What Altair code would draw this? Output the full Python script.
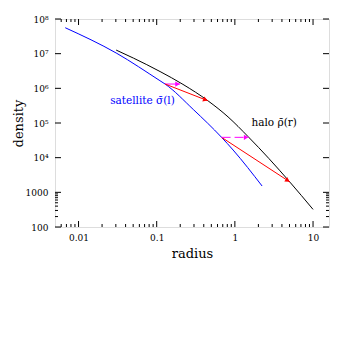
import math
import altair as alt
import pandas as pd

# ---------------- data ----------------
halo_r = [0.0303, 0.0504, 0.1104, 0.2168, 0.4545, 0.818, 1.473, 2.731, 5.06, 10.0]
halo_rho = [1.27e7, 7.45e6, 3.05e6, 1.30e6, 4.34e5, 1.50e5, 4.07e4, 9400, 1972, 322]

sat_l = [0.00676, 0.0309, 0.110, 0.128, 0.294, 0.676, 0.95, 2.23]
sat_sigma = [5.6e7, 1.02e7, 1.66e6, 1.33e6, 2.45e5, 3.86e4, 1.66e4, 1520]

# arrows: start (x1,y1) -> end (x2,y2)
arr_x1 = [0.128, 0.128, 0.676, 0.676]
arr_y1 = [1.33e6, 1.33e6, 3.86e4, 3.86e4]
arr_x2 = [0.199, 0.45, 1.5, 5.04]
arr_y2 = [1.33e6, 4.4e5, 3.86e4, 2000]
arr_col = ["#ff00ff", "#ff0000", "#ff00ff", "#ff0000"]
arr_dash = [False, False, True, False]

x_major = [0.01, 0.1, 1, 10]
y_major = [100, 1000, 1e4, 1e5, 1e6, 1e7, 1e8]

labels = ["satellite σ̄(l)", "halo ρ̄(r)"]
label_x = [0.0254, 1.63]
label_y = [4.4e5, 1.02e5]
label_col = ["#0000ff", "#000000"]

# ---------------- layout ----------------
W, H = 274, 208
XDOM = [0.005, 16]
YDOM = [100, 1e8]
MAJ, MIN = 6, 3
FONT = "DejaVu Serif"

xs = alt.Scale(type="log", domain=XDOM, nice=False)
ys = alt.Scale(type="log", domain=YDOM, nice=False)

px_dec = W / (math.log10(XDOM[1]) - math.log10(XDOM[0]))
py_dec = H / (math.log10(YDOM[1]) - math.log10(YDOM[0]))


def minors(lo, hi):
    out = []
    for e in range(-4, 3):
        for m in range(2, 10):
            v = m * 10 ** e
            if lo < v < hi:
                out.append(v)
    return out


x_minor = minors(*XDOM)
y_minor = minors(*YDOM)

xaxis = alt.Axis(values=x_major, format="~g", domain=False, ticks=False, grid=False,
                 labelFont=FONT, labelFontSize=9, labelColor="black", labelPadding=6,
                 titleFont=FONT, titleFontSize=13, titleFontWeight="normal",
                 titleColor="black", titlePadding=5)
yaxis = alt.Axis(values=y_major, domain=False, ticks=False, grid=False,
                 labelExpr="datum.value < 10000 ? format(datum.value, 'd') : '10' + "
                           "substring('⁰¹²³⁴⁵⁶⁷⁸⁹', round(log(datum.value)/LN10), "
                           "round(log(datum.value)/LN10) + 1)",
                 labelFont=FONT, labelFontSize=9, labelColor="black", labelPadding=7,
                 titleFont=FONT, titleFontSize=13, titleFontWeight="normal",
                 titleColor="black", titlePadding=0)


def X(f):
    return alt.X(f, type="quantitative", scale=xs, axis=xaxis, title="radius")


def Y(f):
    return alt.Y(f, type="quantitative", scale=ys, axis=yaxis, title="density")


halo_df = pd.DataFrame({"x": halo_r, "y": halo_rho})
sat_df = pd.DataFrame({"x": sat_l, "y": sat_sigma})

halo = alt.Chart(halo_df).mark_line(color="black", strokeWidth=1, interpolate="monotone").encode(
    x=X("x"), y=Y("y"))
sat = alt.Chart(sat_df).mark_line(color="#0000ff", strokeWidth=1, interpolate="monotone").encode(
    x=X("x"), y=Y("y"))

# arrows
arr_df = pd.DataFrame({"x1": arr_x1, "y1": arr_y1, "x2": arr_x2, "y2": arr_y2,
                       "c": arr_col, "dash": arr_dash})
solid = alt.Chart(arr_df[~arr_df.dash]).mark_rule(strokeWidth=1).encode(
    x=X("x1"), y=Y("y1"), x2="x2:Q", y2="y2:Q", color=alt.Color("c:N", scale=None))
dashed = alt.Chart(arr_df[arr_df.dash]).mark_rule(strokeWidth=1, strokeDash=[9, 4]).encode(
    x=X("x1"), y=Y("y1"), x2="x2:Q", y2="y2:Q", color=alt.Color("c:N", scale=None))

hx, hy, ha = [], [], []
for a, b, c, d in zip(arr_x1, arr_y1, arr_x2, arr_y2):
    dx = (math.log10(c) - math.log10(a)) * px_dec
    dy = -(math.log10(d) - math.log10(b)) * py_dec
    ang = math.atan2(dy, dx)
    back = 2.5
    hx.append(10 ** (math.log10(c) - back * math.cos(ang) / px_dec))
    hy.append(10 ** (math.log10(d) + back * math.sin(ang) / py_dec))
    ha.append(math.degrees(ang) % 360)
head_df = pd.DataFrame({"x": hx, "y": hy, "a": ha, "c": arr_col})
heads = alt.Chart(head_df).mark_point(shape="triangle-right", filled=True, size=28, opacity=1,
                                      strokeWidth=0).encode(
    x=X("x"), y=Y("y"), angle=alt.Angle("a:Q", scale=None), color=alt.Color("c:N", scale=None))

txt_df = pd.DataFrame({"x": label_x, "y": label_y, "t": labels, "c": label_col})
texts = alt.Chart(txt_df).mark_text(align="left", baseline="middle", font=FONT,
                                    fontSize=10.5).encode(
    x=X("x"), y=Y("y"), text="t:N", color=alt.Color("c:N", scale=None))


def tick_layer(vals, side, length):
    df = pd.DataFrame({"v": vals})
    base = alt.Chart(df).mark_rule(color="black", strokeWidth=1)
    if side == "bottom":
        return base.encode(x=X("v"), y=alt.value(H), y2=alt.value(H - length))
    if side == "top":
        return base.encode(x=X("v"), y=alt.value(0), y2=alt.value(length))
    if side == "left":
        return base.encode(y=Y("v"), x=alt.value(0), x2=alt.value(length))
    return base.encode(y=Y("v"), x=alt.value(W), x2=alt.value(W - length))


ticks = []
for side in ["bottom", "top"]:
    ticks.append(tick_layer(x_major, side, MAJ))
    ticks.append(tick_layer(x_minor, side, MIN))
for side in ["left", "right"]:
    ticks.append(tick_layer(y_major, side, MAJ))
    ticks.append(tick_layer(y_minor, side, MIN))

chart = alt.layer(halo, sat, solid, dashed, heads, texts, *ticks).properties(
    width=W, height=H,
    padding={"left": 47, "top": 11, "right": 20, "bottom": 120},
    autosize=alt.AutoSizeParams(type="none"),
).configure_view(stroke="black", strokeWidth=1).configure(background="white")

chart.save("out.html", embed_options={"renderer": "svg", "actions": False})
